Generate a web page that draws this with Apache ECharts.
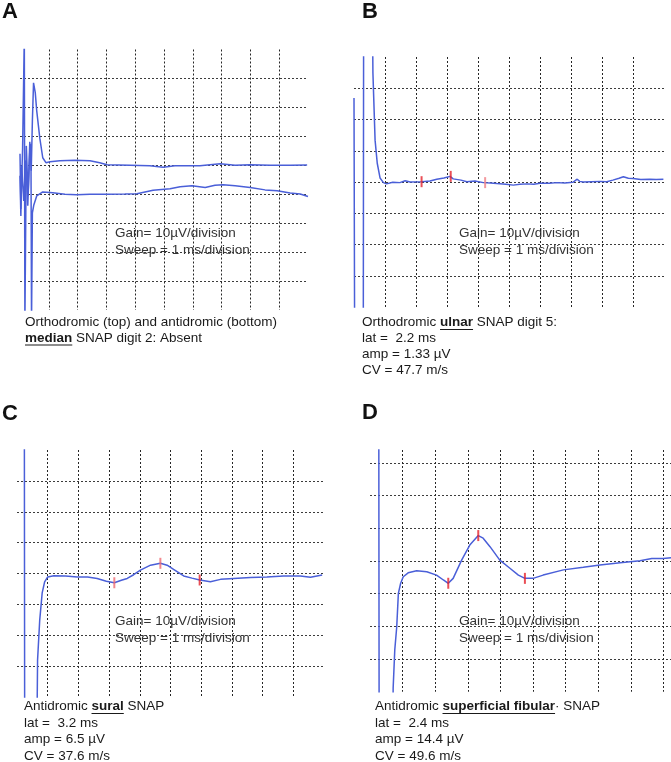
<!DOCTYPE html>
<html><head><meta charset="utf-8">
<script src="https://cdn.jsdelivr.net/npm/echarts@6/dist/echarts.min.js"></script>
<style>html,body{margin:0;padding:0;background:#fff}#c{width:671px;height:762px}</style>
</head><body><div id="c"></div>
<script>
// ---- Data (x in ms, y in µV relative to panel bottom; 10 µV per division) ----
const panelA_orthodromic = [[0.00,54.0],[0.03,34.9],[0.09,55.7],[0.15,95],[0.17,-5],[0.22,56.7],[0.28,39.4],[0.34,58.1],[0.39,48.1],[0.43,65.4],[0.47,78.5],[0.53,75.1],[0.58,68.9],[0.69,59.2],[0.79,52.6],[0.90,50.9],[1.04,51.2],[1.38,51.6],[1.90,51.7],[2.43,51.6],[2.77,50.9],[3.02,50.2],[3.82,50.0],[4.51,49.8],[4.97,49.3],[5.38,49.8],[6.25,49.8],[6.95,50.5],[7.47,50.0],[7.99,50.2],[8.69,50.0],[9.38,50.0],[9.97,50.1]];
const panelA_antidromic = [[0.00,46.4],[0.03,32.5],[0.06,49.8],[0.13,37.7],[0.20,51.6],[0.27,36.0],[0.34,55.0],[0.38,57.4],[0.40,-5],[0.43,33.6],[0.48,36.3],[0.58,39.4],[0.79,40.8],[1.14,40.5],[1.56,40.0],[1.97,39.8],[2.43,40.0],[3.02,40.0],[3.64,40.1],[4.06,40.2],[4.62,41.4],[5.21,41.9],[5.56,42.6],[5.97,42.9],[6.43,42.3],[6.77,43.1],[7.05,43.3],[7.47,42.9],[7.99,42.3],[8.51,41.5],[8.93,41.2],[9.38,40.4],[9.73,40.1],[10.0,39.2]];
const panelB_trace = [[0.00,66.9],[0.02,-8],[0.30,-8],[0.31,88],[0.60,88],[0.61,75],[0.68,53.4],[0.75,46.0],[0.84,41.3],[0.95,39.8],[1.05,39.4],[1.25,39.9],[1.48,39.8],[1.65,40.4],[1.81,40.0],[2.18,40.1],[2.45,40.3],[2.67,40.9],[2.9,41.3],[3.1,41.8],[3.2,41.0],[3.26,40.9],[3.45,40.6],[3.64,40.1],[3.9,40.3],[4.17,39.8],[4.4,39.7],[4.61,39.5],[4.9,39.3],[5.14,39.0],[5.35,39.3],[5.58,39.4],[5.8,39.3],[6.0,39.6],[6.3,39.6],[6.55,39.8],[6.8,39.7],[7.06,39.9],[7.2,40.9],[7.28,40.2],[7.39,40.0],[7.65,40.1],[7.94,40.2],[8.15,40.1],[8.35,40.6],[8.55,41.2],[8.69,41.7],[8.85,41.2],[9.0,41.1],[9.25,40.8],[9.54,40.9],[9.75,40.8],[9.98,40.9]];
const panelB_markers = [[2.18,40.1],[3.12,41.8],[4.23,39.8]];
const panelC_trace = [[0.24,86],[0.25,-10],[0.65,-10],[0.67,12.0],[0.74,24.9],[0.82,33.7],[0.90,37.3],[1.00,38.9],[1.20,39.3],[1.58,39.2],[1.96,38.9],[2.30,38.9],[2.61,38.4],[2.91,37.5],[3.17,37.0],[3.40,37.8],[3.59,38.4],[3.80,39.6],[4.02,41.1],[4.35,42.7],[4.67,43.3],[4.89,42.7],[5.10,41.3],[5.43,39.2],[5.70,38.5],[5.95,37.9],[6.30,37.3],[6.63,38.1],[7.06,38.4],[7.60,38.7],[8.14,38.9],[8.68,39.2],[9.23,39.2],[9.56,38.8],[9.94,39.5]];
const panelC_markers = [[3.17,37.0],[4.67,43.3],[5.95,37.9]];
const panelD_trace = [[0.27,80],[0.28,-10],[0.70,-10],[0.71,1.1],[0.76,12.8],[0.82,19.9],[0.87,30.1],[0.94,33.2],[1.02,35.2],[1.17,36.4],[1.43,37.0],[1.74,36.7],[2.04,35.7],[2.25,34.2],[2.40,33.2],[2.55,34.7],[2.81,40.3],[3.06,44.9],[3.32,47.8],[3.47,47.0],[3.68,44.4],[3.98,40.3],[4.29,37.8],[4.55,35.7],[4.75,34.7],[5.00,34.7],[5.31,35.7],[5.93,37.3],[6.54,38.1],[7.05,38.8],[7.67,39.5],[8.28,40.1],[8.64,40.8],[8.99,40.8],[9.23,41.0]];
const panelD_markers = [[2.40,33.2],[3.32,47.8],[4.75,34.7]];

const panelLetters = ['A','B','C','D'];
const gainText = 'Gain= 10µV/division';
const sweepText = 'Sweep = 1 ms/division';
const captionA = [[{t:'Orthodromic (top) and antidromic (bottom)'}],[{t:'median',b:1,u:1},{t:' SNAP digit 2: Absent'}]];
const captionB = [[{t:'Orthodromic '},{t:'ulnar',b:1,u:1},{t:' SNAP digit 5:'}],[{t:'lat =  2.2 ms'}],[{t:'amp = 1.33 µV'}],[{t:'CV = 47.7 m/s'}]];
const captionC = [[{t:'Antidromic '},{t:'sural',b:1,u:1},{t:' SNAP'}],[{t:'lat =  3.2 ms'}],[{t:'amp = 6.5 µV'}],[{t:'CV = 37.6 m/s'}]];
const captionD = [[{t:'Antidromic '},{t:'superficial fibular',b:1,u:1},{t:'· SNAP'}],[{t:'lat =  2.4 ms'}],[{t:'amp = 14.4 µV'}],[{t:'CV = 49.6 m/s'}]];

// ---- Layout ----
const FAM = '"Liberation Sans", Arial, sans-serif';
const FS = 13.5;
const cv = document.createElement('canvas').getContext('2d');
function measure(t, font){ cv.font = font; return cv.measureText(t).width; }
const els = [];
function txt(x, y, text, font, fill){
  els.push({type:'text', x:x, y:y, silent:true,
    style:{text:text, font:font, fill:fill, textAlign:'left', textVerticalAlign:'middle', align:'left', verticalAlign:'middle'}});
}
function caption(x, ys, lines){
  lines.forEach((parts, i) => {
    let cx = x; const yc = ys[i];
    parts.forEach(p => {
      const font = (p.b ? 'bold ' : '') + FS + 'px ' + FAM;
      txt(cx, yc, p.t, font, '#1a1a1a');
      const w = measure(p.t, font);
      if (p.u) els.push({type:'line', silent:true, shape:{x1:cx, y1:yc+7, x2:cx+w, y2:yc+7}, style:{stroke:'#1a1a1a', lineWidth:1.2}});
      cx += w;
    });
  });
}
const letterFont = 'bold 22px ' + FAM;
txt(2, 12, panelLetters[0], letterFont, '#111');
txt(362, 12, panelLetters[1], letterFont, '#111');
txt(2, 414, panelLetters[2], letterFont, '#111');
txt(362, 412.5, panelLetters[3], letterFont, '#111');
const gFont = FS + 'px ' + FAM;
[[115,233,250.5],[459,233,250.5],[115,621.7,638.3],[459,621.7,638.3]].forEach(g => {
  txt(g[0], g[1], gainText, gFont, '#333');
  txt(g[0], g[2], sweepText, gFont, '#333');
});
caption(25, [322.5, 338], captionA);
caption(362, [322.5, 338.5, 354.5, 370.5], captionB);
caption(24, [706.5, 723, 739.5, 756], captionC);
caption(375, [706.5, 723, 739.5, 756], captionD);

const grids = [
  {left:20, top:49.5, width:288, height:260.5},
  {left:354, top:57, width:310, height:250},
  {left:17, top:450, width:307, height:247},
  {left:370, top:450, width:301, height:241.7}
];
const xMax = [10, 10, 10, 9.23];
const yMax = [90, 80, 80, 74];
const split = (c) => ({show:true, showMinLine:false, showMaxLine:false, lineStyle:{color:c, type:[2,2], width:1}});
const xAxes = grids.map((g,i) => ({gridIndex:i, type:'value', min:0, max:xMax[i], interval:1,
  axisLine:{show:false}, axisTick:{show:false}, axisLabel:{show:false}, splitLine:split('#262626')}));
const yAxes = grids.map((g,i) => ({gridIndex:i, type:'value', min:0, max:yMax[i], interval:10,
  axisLine:{show:false}, axisTick:{show:false}, axisLabel:{show:false}, splitLine:split('#3c3c3c')}));

const BLUE = '#4a5fd8', RED = '#e5222b';
function trace(data, i){ return {type:'line', xAxisIndex:i, yAxisIndex:i, data:data, showSymbol:false, symbol:'none', clip:true,
  lineStyle:{color:BLUE, width:1.5}, silent:true, z:3}; }
function marks(data, i, colors){ return {type:'scatter', xAxisIndex:i, yAxisIndex:i, symbol:'rect', symbolSize:[2,11], silent:true, z:4,
  data:data.map((d,k)=>({value:d, itemStyle:{color:colors ? colors[k] : RED}}))}; }

const chart = echarts.init(document.getElementById('c'), null, {renderer:'canvas'});
chart.setOption({
  animation:false,
  backgroundColor:'#ffffff',
  grid:grids,
  xAxis:xAxes,
  yAxis:yAxes,
  series:[
    trace(panelA_orthodromic,0), trace(panelA_antidromic,0),
    trace(panelB_trace,1), marks(panelB_markers,1,[RED,RED,'#f07f86']),
    trace(panelC_trace,2), marks(panelC_markers,2,['#f06a72','#f06a72','#e5222b']),
    trace(panelD_trace,3), marks(panelD_markers,3)
  ],
  graphic:{elements:els}
});
</script></body></html>
